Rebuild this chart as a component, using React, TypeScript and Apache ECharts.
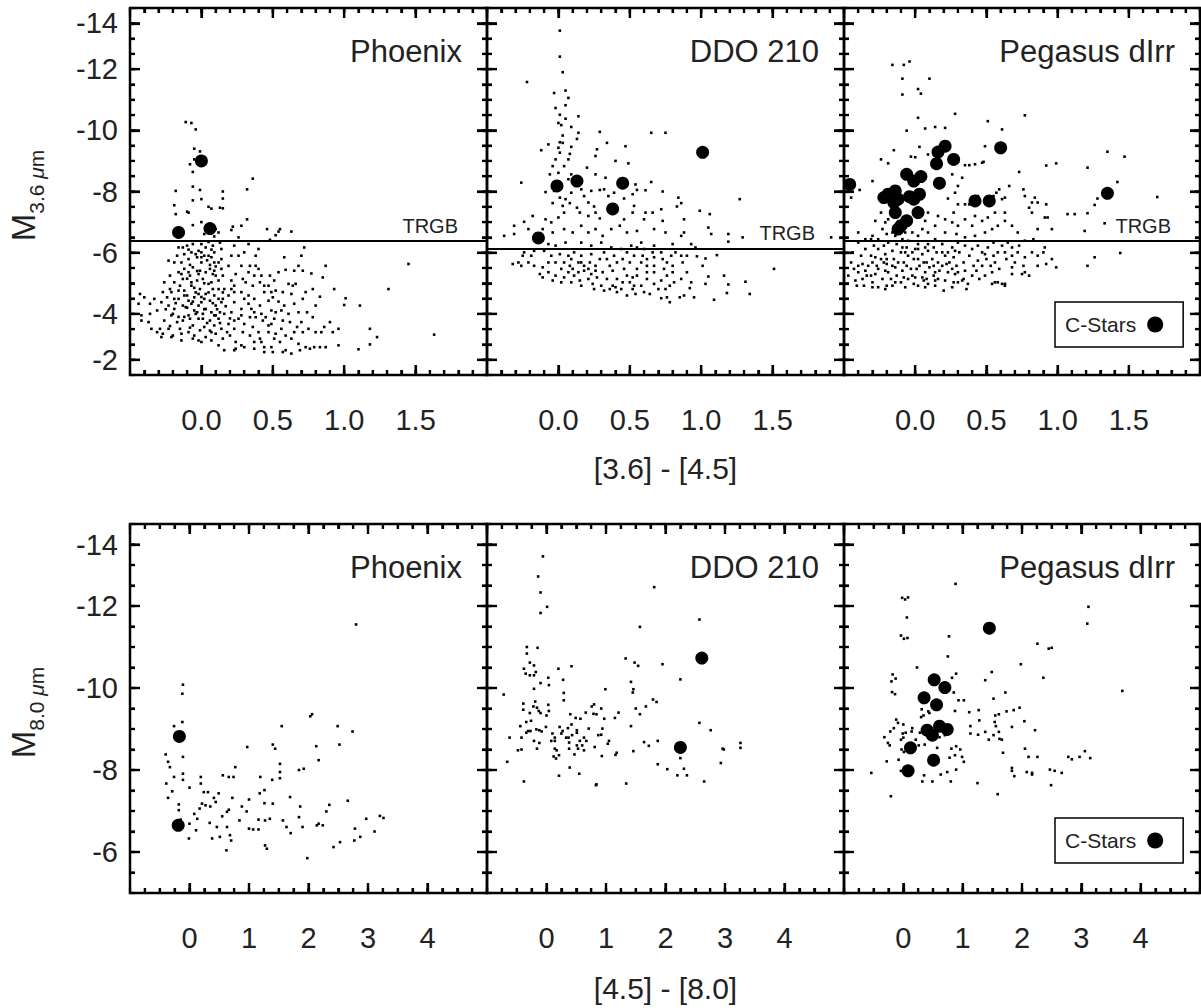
import React, { useEffect, useRef } from 'react';
import * as echarts from 'echarts';

const FONT = '"Liberation Sans", Arial, Helvetica, sans-serif';

const PANEL_NAMES = ['Phoenix', 'DDO 210', 'Pegasus dIrr'];
const TRGB = [-6.39, -6.14, -6.39];
const X_TITLES = ['[3.6] - [4.5]', '[4.5] - [8.0]'];
const Y_SUBS = ['3.6 ', '8.0 '];
const Y_TICKS_TOP = [-13.5, -12, -10, -8, -6, -4, -2.5];
const Y_TICKS_BOTTOM = [-13.5, -12, -10, -8, -6];
const Y_TICK_NAMES: Record<string, string> = { '-13.5': '-14', '-2.5': '-2' };
const X_TICKS_TOP = [0, 0.5, 1, 1.5];
const X_TICKS_BOTTOM = [0, 1, 2, 3, 4];

// ---- Top row: M3.6 vs [3.6]-[4.5] ----
const phxTop: number[][] = [
  [-0.11,-10.27],[-0.07,-10.24],[-0.04,-10.03],[-0.05,-9.40],[-0.01,-9.31],[-0.08,-8.89],[-0.05,-9.05],[-0.06,-8.64],[0.36,-8.42],[0.32,-8.07],[-0.18,-8.02],[-0.06,-8.16],[-0.01,-8.05],[0.0,-7.75],[0.15,-8.0],[0.15,-7.77],[-0.19,-7.55],[-0.06,-7.71],[-0.10,-7.34],[-0.09,-7.31],[0.05,-7.50],[0.07,-7.44],[0.13,-7.47],[0.15,-7.45],[-0.18,-7.26],[0.0,-7.0],[-0.06,-6.90],[0.32,-7.09],[0.28,-6.88],[0.21,-6.74],[0.22,-6.85],[0.10,-6.77],[0.12,-6.66],[0.46,-6.77],[0.55,-6.77],[0.54,-6.69],[0.52,-6.57],[0.63,-6.69],[0.48,-6.42],[0.26,-6.50],[0.09,-6.53],[0.02,-6.61],
  [1.45,-5.63],[1.31,-4.81],[1.63,-3.32],[1.11,-4.27],[1.01,-4.51],[1.0,-4.29],[0.96,-3.51],[0.96,-2.97],[0.87,-2.91],[1.10,-2.84],[1.18,-3.0],[1.18,-3.51],[1.23,-3.24],[0.92,-3.40],[0.90,-3.73],[0.86,-3.57],[0.93,-4.81],[0.87,-5.57],[0.85,-5.19],[0.77,-5.32],[0.72,-6.17],[0.70,-5.90],[0.74,-4.05],[0.83,-4.56],[0.80,-4.27],[0.78,-4.81],[0.78,-3.89],[0.76,-2.86],[0.79,-2.91],[0.73,-2.91],[0.69,-2.81],[0.63,-2.70],[0.59,-2.81],[0.65,-3.40],[0.59,-3.29],[0.67,-3.57],[0.65,-4.33],[0.68,-4.05],[0.63,-4.65],[0.66,-4.98],[0.61,-4.98],[0.59,-5.44],[0.65,-5.41],[0.71,-5.41],[0.58,-5.85],[0.68,-5.57],[0.52,-4.76],[0.54,-4.40],[0.56,-4.11],[0.57,-3.78],[0.56,-3.51],[0.52,-3.35],[0.55,-3.08],[0.57,-2.75],[0.49,-2.91],[0.44,-2.91],[0.41,-3.19],[0.47,-3.40],[0.49,-3.67],[0.45,-3.89],[0.49,-4.11],[0.47,-4.43],[0.50,-4.54],[0.47,-4.92],[0.44,-4.71],[0.51,-5.09],[0.42,-5.25],[0.38,-5.57],[0.34,-5.57],[0.38,-5.90],[0.40,-6.12],[0.33,-6.28],[0.30,-6.01],[0.23,-6.23],[0.26,-5.90],[0.28,-5.57],[0.24,-5.30],[0.31,-5.03],[0.36,-4.92],[0.23,-4.92],[0.28,-4.71],[0.33,-4.60],[0.37,-4.49],[0.41,-4.27],[0.42,-4.0],[0.37,-4.05],[0.33,-4.33],[0.28,-4.16],[0.23,-4.38],[0.21,-4.05],[0.26,-3.84],[0.30,-3.67],[0.36,-3.57],[0.40,-3.40],[0.34,-3.29],[0.29,-3.40],[0.23,-3.51],[0.19,-3.67],[0.20,-3.29],[0.24,-3.08],[0.30,-2.91],[0.24,-2.86],[0.28,-2.97],[0.37,-3.08],[0.16,-2.81],[0.15,-3.19],[0.14,-3.51],[0.12,-3.84],[0.16,-4.0],[0.14,-4.38],[0.19,-4.60],[0.16,-4.81],[0.21,-5.09],[0.15,-5.25],[0.19,-5.57],[0.14,-5.79],[0.21,-5.90],[0.14,-6.12],[0.13,-6.33],[0.08,-6.23],[0.03,-6.17],[0.05,-5.90],[0.09,-5.68],[0.06,-5.47],[0.10,-5.25],[0.07,-5.03],[0.12,-4.81],[0.09,-4.60],[0.06,-4.43],[0.10,-4.27],[0.07,-4.05],[0.06,-3.78],[0.09,-3.62],[0.07,-3.40],[0.03,-3.24],[0.0,-3.08],[0.02,-3.57],[-0.01,-3.46],[-0.05,-3.29],[-0.09,-3.40],[-0.06,-3.62],[-0.02,-3.84],[0.01,-4.0],[-0.05,-4.11],[-0.09,-3.95],[-0.13,-3.78],[-0.15,-3.51],[-0.14,-3.35],[-0.20,-3.29],[-0.23,-3.51],[-0.17,-3.73],[-0.21,-3.95],[-0.26,-3.78],[-0.29,-3.51],[-0.27,-3.35],[-0.31,-4.11],[-0.28,-4.38],[-0.23,-4.27],[-0.19,-4.16],[-0.24,-4.54],[-0.21,-4.71],[-0.16,-4.49],[-0.13,-4.27],[-0.09,-4.43],[-0.05,-4.54],[0.0,-4.38],[0.03,-4.65],[-0.01,-4.81],[-0.07,-4.92],[-0.12,-4.76],[-0.15,-4.92],[-0.19,-5.03],[-0.13,-5.14],[-0.08,-5.25],[-0.03,-5.09],[0.01,-5.14],[0.03,-5.36],[-0.01,-5.41],[-0.06,-5.52],[-0.12,-5.47],[-0.16,-5.36],[-0.14,-5.68],[-0.09,-5.79],[-0.03,-5.85],[0.0,-5.68],[0.02,-5.90],[-0.02,-6.06],[-0.07,-6.01],[-0.12,-5.95],[-0.17,-5.90],[-0.19,-5.68],[-0.23,-5.74],[-0.16,-6.17],[-0.10,-6.23],[-0.06,-6.28],[0.0,-6.28],[0.05,-6.35],[-0.13,-6.17],[-0.22,-5.25],[-0.26,-5.03],[-0.27,-4.71],[-0.33,-4.49],[-0.36,-4.33],[-0.43,-4.65],[-0.40,-4.54],[-0.44,-4.33],[-0.42,-3.95],[-0.42,-3.78],[-0.36,-4.0],[-0.37,-3.73],[-0.35,-3.51],[-0.31,-3.40],[-0.28,-3.24],[-0.21,-3.24],[-0.14,-3.13],[-0.06,-3.19],[-0.02,-3.13],[0.07,-3.13],[0.10,-3.35],[-0.08,-3.84],[-0.11,-4.22],[0.03,-4.16],[0.09,-3.95],[0.13,-4.05],[0.15,-4.49],[0.12,-4.49],[0.08,-4.81],[0.05,-4.98],[0.12,-5.09],[0.09,-5.41],[0.14,-5.47],[0.12,-5.68],[0.07,-5.85],[0.09,-6.01],[0.0,-6.01],[-0.09,-5.36],[-0.07,-5.03],[-0.10,-4.60],[-0.02,-4.65],[0.02,-4.49],[-0.07,-4.33],[-0.02,-4.27],[0.01,-3.84],[-0.03,-4.05],[-0.19,-4.49],[-0.22,-4.81],[-0.16,-4.76],[0.21,-4.81],[0.23,-4.71],[0.30,-4.49],[0.35,-4.16],[0.38,-3.89],[0.34,-3.89],[0.28,-3.95],[0.23,-3.78],[0.43,-3.78],[0.47,-3.62],[0.51,-3.84],[0.52,-4.05],[0.58,-4.27],[0.61,-4.0],[0.62,-3.73],[0.63,-3.19],[0.68,-3.02],[0.71,-3.40],[0.75,-3.51],[0.70,-3.73],[0.71,-4.49],[0.73,-4.71],[0.64,-4.92],[0.57,-4.71],[0.49,-4.71],[0.44,-4.92],[0.41,-5.03],[0.37,-5.25],[0.33,-5.36],[0.29,-5.14],[0.40,-5.47],[0.48,-5.25],[0.54,-5.36],[0.12,-2.97],[0.23,-2.81],[0.37,-2.86],[0.42,-3.08],[0.44,-2.75],[0.50,-2.75],[0.51,-3.19],[0.83,-2.91],[0.84,-3.40],[0.80,-3.40],
  [-0.04,-5.95],[0.04,-5.75],[-0.08,-5.6],[0.06,-5.6],[-0.03,-5.4],[0.08,-5.3],[-0.1,-5.15],[0.02,-5.0],[-0.05,-4.85],[0.05,-4.7],[-0.12,-4.6],[0.0,-4.55],[-0.06,-4.4],[0.08,-4.35],[-0.1,-4.2],[0.02,-4.15],[-0.04,-4.0],[0.1,-3.95],[-0.12,-3.9],[0.04,-3.7],[-0.08,-3.55],[0.06,-3.45],[-0.02,-5.3],[0.1,-5.55],[-0.14,-5.3],[0.0,-5.85],[-0.09,-6.1],[0.07,-6.1],[-0.04,-4.7],[0.11,-4.15],[-0.18,-4.35],[-0.2,-4.0],[-0.25,-4.15],[-0.16,-3.9],[-0.22,-3.6],[0.13,-3.7],[0.17,-4.25],[0.18,-3.4],[0.2,-3.85],[0.15,-4.7],
];
const phxTopC: number[][] = [[0.0,-9.0],[-0.16,-6.66],[0.06,-6.79]];

const ddoTop: number[][] = [
  [0.01,-13.26],[0.01,-12.41],[0.03,-11.90],[-0.22,-11.58],[-0.03,-11.22],[0.05,-11.30],[0.07,-11.06],[-0.02,-10.73],[0.05,-10.82],[0.01,-10.51],[0.05,-10.38],[0.0,-10.24],[0.02,-10.17],[0.14,-10.46],[0.09,-10.11],[0.14,-9.92],[0.03,-9.83],[0.13,-9.72],[0.01,-9.61],[0.03,-9.59],[-0.07,-9.54],[-0.12,-9.35],[0.0,-9.43],[0.09,-9.46],[0.01,-9.27],[0.08,-9.23],[-0.02,-9.05],[0.07,-9.05],[-0.04,-8.83],[0.04,-8.83],[0.0,-8.61],[0.09,-8.56],[0.07,-8.40],[-0.06,-8.56],[0.29,-9.95],[0.34,-9.59],[0.27,-9.38],[0.47,-9.48],[0.65,-9.92],[0.75,-9.92],[0.26,-9.16],[0.40,-9.0],[0.49,-8.92],[0.20,-8.78],[0.26,-8.56],[0.33,-8.45],[-0.26,-8.29],[-0.03,-8.02],[-0.09,-7.98],[0.01,-7.80],[0.05,-7.75],[0.09,-7.96],[0.16,-8.07],[0.18,-7.85],[0.23,-8.02],[0.29,-8.05],[0.32,-8.07],[0.35,-7.85],[0.39,-7.96],[0.46,-7.77],[0.54,-8.23],[0.55,-8.05],[0.61,-8.04],[0.65,-8.31],[0.52,-7.91],[0.73,-8.0],[0.84,-7.80],[0.86,-7.62],[0.83,-7.51],[-0.04,-7.62],[0.03,-7.53],[0.08,-7.62],[0.13,-7.47],[0.21,-7.64],[0.25,-7.51],[0.15,-7.31],[0.21,-7.20],[0.26,-7.31],[0.29,-7.12],[0.04,-7.31],[0.0,-7.15],[-0.05,-6.99],[-0.09,-7.09],[-0.18,-7.20],[-0.24,-7.01],[-0.31,-6.88],[-0.38,-6.55],[-0.31,-6.61],[-0.21,-6.77],[-0.11,-6.77],[-0.04,-6.66],[0.04,-6.77],[0.10,-6.66],[0.16,-6.88],[0.21,-6.66],[0.26,-6.77],[0.31,-6.55],[0.37,-6.77],[0.43,-6.88],[0.46,-7.09],[0.52,-7.31],[0.53,-7.53],[0.48,-6.66],[0.55,-6.71],[0.60,-7.09],[0.61,-7.31],[0.66,-7.31],[0.67,-6.77],[0.72,-7.42],[0.73,-7.04],[0.75,-6.66],[0.80,-6.28],[0.86,-6.55],[0.88,-6.66],[0.88,-7.09],[0.99,-7.37],[1.06,-7.26],[1.05,-6.82],[1.07,-6.61],[1.19,-6.61],[1.19,-6.36],[1.27,-7.75],[1.29,-6.50],[1.91,-6.50],[1.51,-5.47],[1.11,-5.92],[1.16,-5.25],[1.19,-4.96],[1.18,-4.68],[1.31,-5.05],[1.34,-4.65],[1.05,-5.22],[1.03,-4.98],[1.09,-4.46],[1.01,-5.57],[1.03,-5.81],[0.97,-5.88],[0.95,-4.54],[0.92,-4.84],[0.88,-4.60],[0.85,-4.54],[0.78,-4.38],[0.72,-4.51],[0.86,-5.14],[0.81,-5.03],[0.76,-5.25],[0.74,-5.47],[0.73,-5.79],[0.72,-6.01],[0.76,-5.68],[0.80,-5.57],[0.67,-6.23],[0.66,-6.01],[0.62,-5.57],[0.67,-5.36],[0.62,-5.14],[0.67,-4.98],[0.58,-4.92],[0.60,-4.71],[0.54,-4.65],[0.53,-4.92],[0.52,-5.19],[0.55,-5.47],[0.58,-5.68],[0.53,-5.90],[0.50,-5.68],[0.46,-5.47],[0.48,-5.25],[0.45,-5.03],[0.41,-4.71],[0.38,-4.92],[0.34,-5.14],[0.38,-5.41],[0.41,-5.68],[0.39,-5.90],[0.44,-6.12],[0.51,-6.23],[0.58,-6.33],[0.37,-6.17],[0.32,-6.01],[0.29,-5.79],[0.26,-5.57],[0.31,-5.36],[0.27,-5.19],[0.24,-4.98],[0.30,-4.92],[0.32,-4.76],[0.25,-4.81],[0.21,-5.14],[0.18,-5.41],[0.22,-5.68],[0.23,-5.95],[0.16,-5.90],[0.14,-5.68],[0.10,-5.47],[0.11,-5.25],[0.15,-5.09],[0.09,-5.03],[0.11,-6.01],[0.07,-5.90],[0.04,-5.68],[0.02,-5.47],[-0.02,-5.68],[0.01,-5.95],[-0.05,-5.90],[-0.07,-5.68],[-0.11,-5.52],[-0.13,-5.30],[-0.11,-5.19],[-0.17,-5.57],[-0.21,-5.68],[-0.26,-5.57],[-0.28,-5.68],[-0.32,-5.63],[-0.25,-5.90],[-0.24,-6.01],[-0.19,-5.90],[-0.17,-6.06],[-0.10,-6.06],[-0.07,-6.28],[-0.02,-6.23],[0.05,-6.33],[0.16,-6.33],[0.23,-6.23],[0.30,-6.33],[-0.07,-5.36],[-0.04,-5.09],[0.02,-5.03],[0.04,-5.19],[-0.02,-5.25],[0.16,-4.92],[0.41,-5.14],[0.44,-4.81],[0.48,-4.60],[0.64,-4.65],[0.70,-4.81],[0.75,-4.81],[0.78,-4.92],[0.76,-4.54],[0.93,-5.03],[0.90,-5.36],[0.87,-5.68],[0.90,-5.90],[0.93,-6.28],[0.96,-6.17],[0.86,-5.90],[0.82,-6.01],[0.79,-5.90],[0.80,-5.36],[0.72,-5.09],[0.67,-5.57],[0.62,-5.79],[0.59,-5.90],[0.60,-6.12],[0.67,-5.85],[0.45,-5.79],[0.48,-6.01],[0.55,-6.17],[0.50,-5.03],[0.55,-5.25],[0.62,-5.36],[0.36,-5.57],[0.34,-5.79],[0.26,-5.41],[0.23,-5.30],[0.18,-5.57],[0.14,-5.36],[0.07,-5.36],[0.08,-5.57],[0.09,-5.79],[0.16,-5.68],[0.21,-5.47],[0.36,-4.81],[0.40,-4.87],[0.52,-4.81],
];
const ddoTopC: number[][] = [[-0.01,-8.18],[0.13,-8.34],[0.45,-8.27],[0.38,-7.43],[-0.14,-6.48],[1.01,-9.28]];

const pegTop: number[][] = [
  [-0.16,-12.14],[-0.08,-12.14],[-0.04,-12.25],[-0.09,-11.69],[0.10,-11.69],[-0.09,-11.17],[0.02,-11.35],[0.04,-11.20],[0.02,-10.41],[0.28,-10.54],[0.51,-10.30],[0.77,-10.49],[-0.06,-9.99],[0.07,-10.06],[0.14,-10.11],[0.21,-10.08],[0.61,-10.03],[0.03,-9.46],[-0.15,-9.35],[-0.24,-9.05],[-0.19,-8.92],[-0.03,-9.14],[0.0,-9.12],[0.09,-9.21],[0.49,-9.48],[0.48,-8.97],[0.35,-8.86],[0.38,-8.86],[0.42,-8.89],[0.47,-8.94],[0.92,-8.85],[0.99,-8.92],[1.21,-8.78],[1.35,-9.30],[1.47,-9.14],[1.42,-8.31],[1.70,-7.82],[-0.30,-8.34],[-0.39,-8.05],[-0.45,-7.80],[0.26,-8.56],[0.33,-8.45],[0.30,-8.18],[0.28,-7.96],[0.23,-7.77],[0.30,-7.58],[0.27,-7.31],[0.35,-7.58],[0.38,-7.58],[0.44,-7.85],[0.55,-7.85],[0.57,-7.96],[0.59,-8.07],[0.61,-7.75],[0.63,-7.80],[0.66,-8.18],[0.73,-8.64],[0.76,-8.07],[0.77,-7.85],[0.82,-7.64],[0.84,-7.80],[0.86,-7.64],[0.92,-7.58],[0.80,-7.47],[0.82,-7.31],[0.91,-7.15],[0.93,-7.15],[0.96,-6.77],[1.07,-7.26],[1.12,-7.26],[1.21,-7.29],[1.26,-7.56],[1.28,-7.77],[1.19,-6.71],[1.33,-6.96],[1.26,-5.85],[1.21,-5.57],[1.44,-5.99],[0.99,-5.52],[0.92,-5.63],[0.90,-6.01],[0.86,-6.77],[0.83,-6.44],[0.77,-6.39],[0.68,-6.17],[0.72,-6.01],[0.70,-5.68],[0.76,-5.57],[0.80,-5.25],[0.75,-5.30],[0.68,-5.52],[0.64,-5.79],[0.63,-6.01],[0.65,-6.33],[0.61,-6.23],[0.55,-6.33],[0.58,-6.01],[0.56,-5.68],[0.59,-5.47],[0.54,-5.36],[0.61,-4.98],[0.56,-5.03],[0.63,-4.92],[0.49,-5.25],[0.47,-5.57],[0.50,-5.79],[0.47,-6.01],[0.51,-6.17],[0.49,-6.66],[0.54,-6.77],[0.58,-6.88],[0.63,-7.04],[0.68,-6.88],[0.72,-6.66],[0.63,-7.31],[0.56,-7.31],[0.51,-7.15],[0.47,-7.04],[0.42,-7.20],[0.40,-6.88],[0.35,-7.09],[0.30,-6.88],[0.26,-6.99],[0.21,-7.09],[0.16,-7.20],[0.14,-6.88],[0.21,-6.66],[0.29,-6.61],[0.35,-6.50],[0.42,-6.55],[0.44,-6.23],[0.40,-6.12],[0.35,-6.23],[0.30,-6.33],[0.26,-6.17],[0.19,-6.28],[0.14,-6.44],[0.09,-6.66],[0.05,-6.77],[0.07,-7.04],[0.09,-7.31],[0.02,-6.55],[-0.02,-6.66],[-0.07,-6.88],[-0.19,-7.09],[-0.24,-7.31],[-0.28,-7.04],[-0.23,-6.77],[-0.30,-6.55],[-0.26,-6.44],[-0.20,-6.61],[-0.14,-6.55],[-0.09,-6.44],[-0.05,-6.39],[0.02,-6.28],[0.09,-6.28],
  [-0.44,-6.01],[-0.45,-5.68],[-0.43,-5.47],[-0.47,-5.25],[-0.42,-5.09],[-0.40,-5.36],[-0.37,-5.63],[-0.38,-5.90],[-0.35,-6.12],[-0.31,-5.90],[-0.33,-5.57],[-0.34,-5.25],[-0.36,-4.92],[-0.30,-5.03],[-0.28,-5.30],[-0.27,-5.57],[-0.28,-5.85],[-0.26,-6.12],[-0.29,-6.23],[-0.22,-6.23],[-0.21,-5.95],[-0.22,-5.68],[-0.21,-5.41],[-0.23,-5.14],[-0.26,-4.87],[-0.20,-4.92],[-0.17,-5.14],[-0.16,-5.57],[-0.15,-5.79],[-0.16,-6.06],[-0.19,-6.33],[-0.13,-6.28],[-0.10,-6.01],[-0.12,-5.68],[-0.09,-5.41],[-0.13,-5.25],[-0.10,-5.03],[-0.07,-4.87],[-0.05,-5.14],[-0.06,-5.57],[-0.05,-5.90],[-0.06,-6.17],[0.0,-6.12],[-0.01,-5.79],[0.01,-5.47],[0.0,-5.19],[0.02,-4.92],[0.06,-5.09],[0.07,-5.36],[0.06,-5.68],[0.05,-5.95],[0.09,-6.06],[0.12,-5.79],[0.10,-5.52],[0.13,-5.25],[0.09,-4.98],[0.14,-4.92],[0.16,-5.14],[0.17,-5.41],[0.16,-5.68],[0.15,-6.01],[0.21,-5.90],[0.22,-5.63],[0.23,-5.36],[0.21,-5.09],[0.20,-4.76],[0.27,-5.03],[0.28,-5.30],[0.29,-5.57],[0.27,-5.85],[0.31,-6.01],[0.34,-5.68],[0.35,-5.41],[0.34,-5.14],[0.37,-4.98],[0.40,-5.25],[0.41,-5.57],[0.38,-5.90],[0.44,-5.74],[0.43,-5.41],[0.45,-5.14],[0.36,-4.81],[0.54,-4.98],[0.63,-4.98],[0.58,-5.03],[0.68,-5.90],[0.73,-6.23],[0.77,-5.85],[0.82,-6.01],[0.86,-5.90],[0.91,-6.17],[0.96,-5.79],[0.86,-5.57],[0.77,-5.36],[0.68,-5.30],[0.53,-5.57],[0.49,-5.95],[0.55,-5.90],
  [-0.40,-5.57],[-0.35,-5.41],[-0.30,-5.68],[-0.26,-5.47],[-0.20,-5.63],[-0.19,-5.36],[-0.14,-5.52],[-0.08,-5.68],[-0.03,-5.47],[-0.02,-5.25],[0.03,-5.57],[0.02,-5.79],[0.08,-5.68],[0.13,-5.57],[0.14,-5.36],[0.19,-5.57],[0.24,-5.68],[0.26,-5.47],[0.30,-5.36],[-0.14,-5.03],[-0.08,-5.19],[0.05,-5.19],[0.08,-5.14],[-0.20,-5.79],[-0.24,-5.79],[-0.07,-6.01],[-0.09,-6.17],[-0.02,-6.01],[0.02,-6.12],[0.07,-6.17],[0.13,-6.17],[0.19,-6.01],[0.23,-6.01],[0.28,-6.06],[-0.31,-5.25],[-0.37,-5.14],[-0.41,-4.92],[-0.30,-4.87],[-0.21,-4.81],[-0.16,-4.92],[-0.01,-4.98],[0.07,-4.87],[0.14,-5.09],[0.26,-4.87],[0.30,-5.03],[0.33,-5.09],
  [-0.21,-6.99],[-0.16,-6.66],[-0.13,-6.77],[-0.07,-6.66],[-0.40,-6.66],[-0.31,-6.44],[-0.40,-6.33],[-0.35,-6.44],
];
const pegTopC: number[][] = [
  [-0.46,-8.23],[0.21,-9.48],[0.16,-9.29],[0.15,-8.91],[0.27,-9.05],[0.60,-9.43],[-0.06,-8.56],[-0.01,-8.34],[0.04,-8.49],[0.17,-8.27],
  [-0.19,-7.91],[-0.14,-8.02],[-0.22,-7.80],[-0.15,-7.64],[-0.12,-7.75],[-0.01,-7.75],[0.03,-7.91],[-0.04,-7.83],[-0.14,-7.31],[0.02,-7.31],
  [-0.10,-6.88],[-0.06,-7.04],[-0.12,-6.77],[0.42,-7.69],[0.52,-7.69],[1.35,-7.94],
];

// ---- Bottom row: M8.0 vs [4.5]-[8.0] ----
const phxBot: number[][] = [
  [2.80,-11.55],[-0.11,-10.08],[-0.12,-9.86],[-0.12,-9.17],[-0.26,-9.07],[-0.11,-8.32],[-0.40,-8.38],[-0.36,-8.20],[-0.33,-8.07],[-0.26,-7.83],[-0.39,-7.67],[-0.29,-7.48],[-0.36,-7.32],[-0.11,-7.91],[-0.11,-7.76],[0.0,-7.57],[-0.18,-7.16],[-0.18,-7.02],[-0.15,-6.79],[0.0,-6.69],[0.11,-6.53],[-0.01,-6.33],[0.08,-6.93],[0.13,-6.81],[0.17,-7.06],[0.19,-7.83],[0.19,-7.67],[0.24,-7.46],[0.31,-7.46],[0.34,-6.71],[0.21,-7.18],[0.27,-7.14],[0.35,-7.11],[0.44,-7.22],[0.41,-7.32],[0.49,-7.43],[0.38,-6.33],[0.46,-6.61],[0.51,-6.37],[0.55,-6.87],[0.56,-7.87],[0.63,-6.61],[0.66,-7.83],[0.68,-6.41],[0.70,-6.28],[0.62,-6.04],[0.63,-6.98],[0.66,-7.03],[0.72,-7.32],[0.74,-7.83],[0.77,-8.07],[0.84,-6.77],[0.88,-7.11],[0.96,-6.99],[0.97,-8.56],[1.0,-7.28],[1.0,-6.57],[1.07,-6.55],[1.16,-6.55],[1.16,-6.79],[1.18,-7.43],[1.19,-7.83],[1.26,-7.19],[1.27,-6.77],[1.26,-7.51],[1.27,-6.16],[1.30,-6.08],[1.35,-6.81],[1.39,-7.76],[1.40,-8.62],[1.44,-8.52],[1.40,-7.18],[1.52,-8.15],[1.52,-7.95],[1.52,-7.80],[1.55,-9.07],[1.57,-6.77],[1.63,-6.61],[1.70,-6.46],[1.69,-7.34],[1.84,-8.00],[1.92,-8.03],[1.84,-6.85],[1.86,-7.11],[1.90,-6.61],[1.98,-5.85],[2.03,-9.31],[2.06,-9.36],[2.13,-8.58],[2.14,-6.65],[2.17,-8.24],[2.17,-6.69],[2.24,-6.65],[2.30,-6.99],[2.35,-7.15],[2.42,-6.12],[2.49,-9.07],[2.52,-8.62],[2.53,-6.24],[2.66,-7.25],[2.74,-8.94],[2.77,-6.28],[2.78,-6.57],[2.87,-6.37],[2.97,-6.81],[3.11,-6.50],[3.20,-6.88],[3.26,-6.83],
];
const phxBotC: number[][] = [[-0.17,-8.82],[-0.19,-6.65]];

const ddoBot: number[][] = [
  [-0.06,-13.21],[-0.14,-12.72],[-0.10,-12.33],[0.01,-11.98],[-0.10,-11.83],[1.81,-12.46],[1.57,-11.49],[2.57,-11.67],[-0.33,-11.0],[-0.33,-10.84],[-0.15,-10.98],[-0.28,-10.62],[-0.21,-10.55],[-0.38,-10.47],[-0.35,-10.35],[-0.28,-10.31],[-0.21,-10.31],[-0.18,-10.39],[0.03,-10.25],[-0.10,-10.12],[0.04,-10.07],[0.20,-10.47],[0.28,-10.20],[0.42,-10.53],[-0.21,-9.98],[-0.72,-9.84],[0.29,-9.88],[0.29,-9.70],[0.99,-9.97],[1.33,-10.72],[1.48,-10.62],[1.54,-10.54],[1.95,-10.58],[2.25,-10.21],[1.42,-10.15],[1.46,-9.97],[1.45,-9.89],[1.79,-9.72],[1.85,-9.66],[1.67,-9.55],[1.50,-9.50],[1.57,-9.36],[-0.39,-9.62],[-0.39,-9.47],[-0.19,-9.67],[-0.22,-9.55],[-0.16,-9.52],[-0.13,-9.44],[0.03,-9.59],[0.04,-9.44],[-0.28,-9.39],[-0.10,-9.39],[0.0,-9.33],[-0.26,-9.20],[-0.34,-9.17],[-0.44,-9.07],[-0.31,-8.95],[-0.27,-8.95],[-0.34,-8.91],[-0.17,-8.99],[-0.12,-8.97],[-0.08,-8.94],[-0.01,-9.05],[-0.21,-8.71],[-0.12,-8.66],[-0.42,-8.79],[-0.16,-8.52],[-0.62,-8.79],[-0.48,-8.48],[-0.42,-8.50],[-0.66,-8.20],[-0.38,-7.72],[0.08,-8.71],[0.14,-8.71],[0.10,-8.89],[0.14,-8.79],[0.22,-9.05],[0.27,-8.95],[0.25,-8.89],[0.33,-8.79],[0.37,-8.79],[0.36,-9.02],[0.42,-9.11],[0.40,-9.36],[0.49,-9.27],[0.57,-9.25],[0.51,-8.97],[0.51,-8.91],[0.43,-8.85],[0.38,-8.67],[0.38,-8.52],[0.47,-8.38],[0.51,-8.60],[0.53,-8.52],[0.56,-8.71],[0.63,-8.79],[0.67,-8.71],[0.63,-8.48],[0.60,-8.60],[0.66,-9.40],[0.76,-9.55],[0.80,-9.60],[0.79,-9.37],[0.84,-9.36],[0.92,-9.50],[0.97,-9.25],[0.71,-9.01],[0.87,-8.85],[0.94,-9.01],[0.92,-8.86],[0.81,-8.56],[0.93,-8.34],[1.05,-8.71],[1.03,-8.64],[1.15,-9.27],[1.21,-9.40],[1.18,-8.42],[1.16,-8.37],[1.42,-9.07],[1.46,-8.46],[1.64,-8.68],[1.72,-8.59],[1.87,-8.71],[0.12,-8.33],[0.16,-8.28],[0.21,-8.36],[0.14,-8.52],[0.17,-8.48],[0.39,-8.06],[0.55,-7.91],[0.21,-7.86],[0.84,-7.65],[0.83,-7.63],[1.34,-7.67],[2.25,-8.29],[2.31,-8.03],[2.20,-7.87],[2.36,-7.87],[2.03,-8.02],[1.87,-8.14],[2.65,-7.72],[2.57,-9.15],[2.76,-8.97],[2.96,-8.52],[2.98,-8.50],[2.93,-8.17],[3.26,-8.66],[3.26,-8.54],
];
const ddoBotC: number[][] = [[2.61,-10.73],[2.25,-8.55]];

const pegBot: number[][] = [
  [0.88,-12.54],[-0.02,-12.20],[0.03,-12.16],[0.08,-12.21],[0.06,-11.72],[-0.04,-11.28],[0.01,-11.20],[0.07,-11.22],[0.77,-11.26],[0.75,-10.77],[3.12,-11.98],[3.10,-11.57],[2.26,-11.08],[2.45,-10.96],[2.50,-10.98],[2.36,-10.25],[0.23,-10.50],[-0.18,-10.33],[-0.13,-10.23],[-0.20,-10.16],[-0.19,-9.90],[-0.14,-9.85],[0.89,-10.35],[0.82,-10.25],[1.49,-10.39],[1.38,-10.19],[1.72,-9.89],[1.98,-10.58],[1.52,-9.74],[3.69,-9.93],[0.85,-9.89],[0.93,-9.70],[1.02,-9.70],[0.87,-9.44],[1.11,-9.41],[1.27,-9.46],[1.55,-9.33],[1.61,-9.36],[1.54,-9.17],[1.56,-9.07],[1.74,-9.43],[1.86,-9.46],[1.96,-9.52],[2.04,-9.19],[1.83,-9.05],[1.61,-8.93],[1.38,-8.93],[1.52,-8.85],[1.44,-8.74],[1.62,-8.76],[1.66,-8.74],[1.28,-9.21],[1.13,-9.07],[1.13,-8.89],[1.26,-8.86],[2.22,-8.97],[1.68,-8.42],[2.05,-8.52],[2.11,-8.32],[2.26,-8.32],[1.83,-8.05],[1.83,-7.98],[1.87,-7.85],[2.08,-7.95],[2.17,-7.93],[2.17,-7.89],[2.47,-8.01],[2.55,-7.98],[2.67,-7.93],[2.49,-7.63],[2.78,-8.32],[2.84,-8.26],[2.97,-8.32],[3.06,-8.46],[3.15,-8.29],[1.25,-7.68],[1.59,-7.41],[0.31,-9.48],[0.30,-9.29],[0.34,-9.33],[0.42,-9.43],[0.44,-9.39],[-0.12,-9.23],[-0.09,-9.15],[-0.16,-9.02],[0.0,-9.11],[-0.22,-8.94],[-0.32,-8.80],[-0.26,-8.66],[-0.23,-8.60],[-0.01,-8.89],[0.0,-8.79],[0.04,-8.91],[0.15,-9.02],[0.14,-8.94],[0.21,-8.74],[0.28,-8.91],[0.26,-8.60],[-0.03,-8.50],[0.01,-8.44],[-0.04,-8.74],[0.36,-8.62],[0.57,-8.54],[0.61,-8.80],[0.70,-8.85],[0.71,-8.97],[0.81,-8.52],[0.89,-8.58],[0.87,-8.36],[0.96,-8.50],[0.99,-8.32],[1.02,-8.20],[0.78,-8.30],[-0.28,-8.21],[-0.08,-8.25],[-0.54,-7.93],[-0.04,-7.98],[0.35,-7.87],[0.32,-7.72],[0.49,-7.72],[0.63,-7.89],[0.74,-7.95],[0.80,-7.72],[0.89,-8.01],[-0.21,-7.36],
];
const pegBotC: number[][] = [[1.45,-11.46],[0.52,-10.20],[0.70,-10.01],[0.35,-9.76],[0.56,-9.59],[0.61,-9.07],[0.74,-8.99],[0.40,-8.97],[0.49,-8.85],[0.12,-8.54],[0.51,-8.24],[0.08,-7.98]];

const SMALL = [phxTop, ddoTop, pegTop, phxBot, ddoBot, pegBot];
const CSTARS = [phxTopC, ddoTopC, pegTopC, phxBotC, ddoBotC, pegBotC];

const LEFTS = [130, 487, 844];
const WIDTHS = [357, 357, 356];
const TOPS = [8, 524];
const HEIGHTS = [367, 369];
const PAD = 14;
const ROW_Y = [
  { min: -14, max: -2, ticks: Y_TICKS_TOP, minor: 0.5 },
  { min: -14, max: -5, ticks: Y_TICKS_BOTTOM, minor: 0.5 },
];
const ROW_X = [
  { min: -0.5, max: 2, major: 0.5, minor: 0.1, dec: 1, nameGap: 78, ticks: X_TICKS_TOP },
  { min: -1, max: 5, major: 1, minor: 0.25, dec: 0, nameGap: 80, ticks: X_TICKS_BOTTOM },
];

function steps(min: number, max: number, step: number): number[] {
  const out: number[] = [];
  const n = Math.round((max - min) / step);
  for (let i = 1; i < n; i++) out.push(Math.round((min + i * step) * 1000) / 1000);
  return out;
}

// tick items: [x, y, length, kind]; kind 0 = x tick (bottom & top), 1 = y tick (left & right)
function tickItems(row: number): number[][] {
  const rx = ROW_X[row], ry = ROW_Y[row];
  const items: number[][] = [];
  steps(rx.min, rx.max, rx.minor).forEach((v) => items.push([v, ry.min, 5, 0]));
  rx.ticks.forEach((v) => items.push([v, ry.min, 10, 0]));
  steps(ry.min, ry.max, ry.minor).forEach((v) => items.push([rx.min, v, 5, 1]));
  ry.ticks.forEach((v) => items.push([rx.min, v, 10, 1]));
  return items;
}

function renderTick(params: any, api: any) {
  const cs = params.coordSys;
  const p = api.coord([api.value(0), api.value(1)]);
  const len = api.value(2);
  const kind = api.value(3);
  const style = { stroke: '#000', lineWidth: 2.2 };
  if (kind === 0) {
    return {
      type: 'group', children: [
        { type: 'line', shape: { x1: p[0], y1: cs.y + cs.height, x2: p[0], y2: cs.y + cs.height - len }, style },
        { type: 'line', shape: { x1: p[0], y1: cs.y, x2: p[0], y2: cs.y + len }, style },
      ],
    };
  }
  return {
    type: 'group', children: [
      { type: 'line', shape: { x1: cs.x, y1: p[1], x2: cs.x + len, y2: p[1] }, style },
      { type: 'line', shape: { x1: cs.x + cs.width, y1: p[1], x2: cs.x + cs.width - len, y2: p[1] }, style },
    ],
  };
}

function buildTickOption(row: number, col: number) {
  const rx = ROW_X[row], ry = ROW_Y[row];
  return {
    animation: false,
    grid: [{ left: PAD, top: PAD, width: WIDTHS[col], height: HEIGHTS[row], show: false }],
    xAxis: [{ type: 'value', min: rx.min, max: rx.max, axisLine: { show: false, onZero: false }, axisTick: { show: false }, axisLabel: { show: false }, splitLine: { show: false } }],
    yAxis: [{ type: 'value', min: ry.min, max: ry.max, inverse: true, axisLine: { show: false, onZero: false }, axisTick: { show: false }, axisLabel: { show: false }, splitLine: { show: false } }],
    series: [{ type: 'custom', clip: false, renderItem: renderTick, data: tickItems(row) }],
  };
}

function buildOption() {
  const tick = (len: number) => ({ show: true, inside: true, length: len, lineStyle: { color: '#000', width: 2.2 } });
  const grid: any[] = [];
  const xAxis: any[] = [];
  const yAxis: any[] = [];
  const series: any[] = [];
  const graphic: any[] = [];
  for (let row = 0; row < 2; row++) {
    for (let col = 0; col < 3; col++) {
      const g = row * 3 + col;
      const rx = ROW_X[row];
      const ry = ROW_Y[row];
      grid.push({ left: LEFTS[col], top: TOPS[row], width: WIDTHS[col], height: HEIGHTS[row], show: true, borderColor: '#000', borderWidth: 2.5, backgroundColor: 'transparent' });
      for (const pos of ['bottom', 'top']) {
        const isMain = pos === 'bottom';
        xAxis.push({
          type: 'value', gridIndex: g, position: pos, min: rx.min, max: rx.max, interval: rx.major,
          axisLine: { show: false, onZero: false }, splitLine: { show: false }, axisTick: tick(10),
          axisLabel: isMain ? {
            show: true, margin: 30, fontSize: 29, color: '#222', fontFamily: FONT,
            showMinLabel: false, showMaxLabel: false,
            formatter: (v: number) => v.toFixed(rx.dec),
          } : { show: false },
          name: isMain && col === 1 ? X_TITLES[row] : '',
          nameLocation: 'middle', nameGap: rx.nameGap,
          nameTextStyle: { fontSize: 30, color: '#222', fontFamily: FONT },
        });
        xAxis.push({
          type: 'value', gridIndex: g, position: pos, min: rx.min, max: rx.max, interval: rx.minor,
          axisLine: { show: false, onZero: false }, splitLine: { show: false }, axisTick: tick(5), axisLabel: { show: false },
        });
      }
      for (const pos of ['left', 'right']) {
        const labeled = pos === 'left' && col === 0;
        yAxis.push({
          type: 'value', gridIndex: g, position: pos, min: ry.min, max: ry.max, interval: 2, inverse: true,
          axisLine: { show: false, onZero: false }, splitLine: { show: false },
          axisTick: { ...tick(10), customValues: ry.ticks },
          axisLabel: labeled ? {
            show: true, margin: 12, fontSize: 29, color: '#222', fontFamily: FONT,
            customValues: ry.ticks,
            formatter: (v: number) => Y_TICK_NAMES[String(v)] ?? String(v),
          } : { show: false },
        });
        yAxis.push({
          type: 'value', gridIndex: g, position: pos, min: ry.min, max: ry.max, interval: 0.5, inverse: true,
          axisLine: { show: false, onZero: false }, splitLine: { show: false }, axisTick: tick(5), axisLabel: { show: false },
        });
      }
      const small: any = {
        type: 'scatter', name: 'stars', xAxisIndex: 4 * g, yAxisIndex: 4 * g,
        data: SMALL[g], symbol: 'rect', symbolSize: 2.6, itemStyle: { color: '#000', opacity: 1 }, silent: true, z: 3,
      };
      if (row === 0) {
        small.markLine = {
          silent: true, symbol: ['none', 'none'],
          lineStyle: { color: '#000', width: 2, type: 'solid', opacity: 1 },
          label: { show: true, position: 'insideEndTop', formatter: 'TRGB', fontSize: 20, color: '#222', fontFamily: FONT, padding: [0, 24, 0, 0] },
          data: [{ yAxis: TRGB[col] }],
        };
      }
      series.push(small);
      series.push({
        type: 'scatter', name: 'C-Stars', xAxisIndex: 4 * g, yAxisIndex: 4 * g,
        data: CSTARS[g], symbol: 'circle', symbolSize: 13, itemStyle: { color: '#000', opacity: 1 }, silent: true, z: 4,
      });
      graphic.push({
        type: 'text', x: LEFTS[col] + WIDTHS[col] - 25, y: row === 0 ? 51 : 567,
        style: { text: PANEL_NAMES[col], fontSize: 31, fontFamily: FONT, fill: '#222', align: 'right', verticalAlign: 'middle' },
      });
    }
    graphic.push({
      type: 'text', x: 29, y: TOPS[row] + HEIGHTS[row] / 2 + 4, rotation: Math.PI / 2,
      style: {
        text: `{m|M}{s|${Y_SUBS[row]}}{u|μ}{s|m}`, align: 'center', verticalAlign: 'middle',
        rich: {
          m: { fontSize: 33, fontFamily: FONT, fill: '#222', lineHeight: 36, verticalAlign: 'bottom', padding: [0, 0, 7, 0] },
          s: { fontSize: 21, fontFamily: FONT, fill: '#222', lineHeight: 22, verticalAlign: 'bottom' },
          u: { fontSize: 21, fontFamily: FONT, fill: '#222', lineHeight: 22, verticalAlign: 'bottom', fontStyle: 'italic' },
        },
      },
    });
  }
  const legend = [302, 818].map((top) => ({
    data: ['C-Stars'], left: 1055, top, orient: 'horizontal', align: 'right', icon: 'circle',
    itemWidth: 28, itemHeight: 16, borderColor: '#000', borderWidth: 1.5, padding: [12, 20, 12, 10],
    selectedMode: false, itemStyle: { color: '#000', opacity: 1 },
    textStyle: { fontSize: 21, color: '#222', fontFamily: FONT },
  }));
  return { animation: false, backgroundColor: '#fff', grid, xAxis, yAxis, series, graphic, legend };
}

function TickPanel({ row, col }: { row: number; col: number }) {
  const ref = useRef<HTMLDivElement>(null);
  useEffect(() => {
    const chart = echarts.init(ref.current!, null, { renderer: 'svg' });
    chart.setOption(buildTickOption(row, col) as any);
    return () => chart.dispose();
  }, [row, col]);
  return (
    <div
      ref={ref}
      style={{
        position: 'fixed', left: LEFTS[col] - PAD, top: TOPS[row] - PAD,
        width: WIDTHS[col] + 2 * PAD, height: HEIGHTS[row] + 2 * PAD, pointerEvents: 'none',
      }}
    />
  );
}

const PANELS = [[0, 0], [0, 1], [0, 2], [1, 0], [1, 1], [1, 2]];

export default function App() {
  const ref = useRef<HTMLDivElement>(null);
  useEffect(() => {
    const chart = echarts.init(ref.current!, null, { renderer: 'svg' });
    chart.setOption(buildOption() as any);
    return () => chart.dispose();
  }, []);
  return (
    <div>
      <div ref={ref} style={{ position: 'fixed', left: 0, top: 0, width: 1201, height: 1008, background: '#fff' }} />
      {PANELS.map(([r, c]) => <TickPanel key={`${r}-${c}`} row={r} col={c} />)}
    </div>
  );
}
